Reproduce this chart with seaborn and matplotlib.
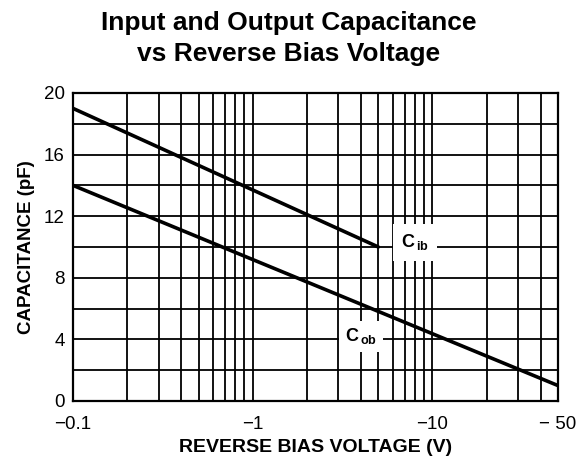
import numpy as np
import pandas as pd
import seaborn as sns
import matplotlib.pyplot as plt
from matplotlib.ticker import FixedLocator, NullFormatter

# Data (reverse bias magnitude in V, capacitance in pF)
cib_voltage = [0.1, 5.0]
cib_capacitance = [19.0, 10.0]
cob_voltage = [0.1, 50.0]
cob_capacitance = [14.0, 1.0]

x_ticks = [0.1, 1, 10, 50]
x_tick_labels = ['\u22120.1', '\u22121', '\u221210', '\u2212 50']
y_ticks = [0, 4, 8, 12, 16, 20]
minor_x = [0.2, 0.3, 0.4, 0.5, 0.6, 0.7, 0.8, 0.9,
           2, 3, 4, 5, 6, 7, 8, 9, 20, 30, 40]

df = pd.concat([
    pd.DataFrame({'voltage': cib_voltage, 'cap': cib_capacitance, 'series': 'Cib'}),
    pd.DataFrame({'voltage': cob_voltage, 'cap': cob_capacitance, 'series': 'Cob'}),
])

sns.set_style('white')
plt.rcParams['font.family'] = ['Liberation Sans', 'DejaVu Sans']
plt.rcParams['text.color'] = 'black'
plt.rcParams['axes.labelcolor'] = 'black'
plt.rcParams['xtick.color'] = 'black'
plt.rcParams['ytick.color'] = 'black'
plt.rcParams['mathtext.fontset'] = 'custom'
plt.rcParams['mathtext.rm'] = 'Liberation Sans'
plt.rcParams['mathtext.bf'] = 'Liberation Sans:bold'

fig = plt.figure(figsize=(5.77, 4.58), dpi=100)
ax = fig.add_axes([0.1265, 0.1245, 0.8406, 0.6725])

sns.lineplot(data=df, x='voltage', y='cap', units='series', estimator=None,
             color='black', linewidth=2.6, ax=ax, zorder=5)

ax.set_xscale('log')
ax.set_xlim(0.1, 50)
ax.set_ylim(0, 20)

ax.xaxis.set_major_locator(FixedLocator(x_ticks))
ax.set_xticklabels(x_tick_labels)
ax.xaxis.set_minor_locator(FixedLocator(minor_x))
ax.xaxis.set_minor_formatter(NullFormatter())
ax.set_yticks(y_ticks)
ax.yaxis.set_minor_locator(FixedLocator([2, 6, 10, 14, 18]))

ax.grid(True, which='both', color='black', linewidth=1.3)
ax.tick_params(axis='both', which='both', length=0, labelsize=13.5)
ax.tick_params(axis='x', pad=11)
ax.tick_params(axis='y', pad=6)

for s in ax.spines.values():
    s.set_color('black')
    s.set_linewidth(1.6)

ax.set_xlabel('REVERSE BIAS VOLTAGE (V)', fontsize=14, fontweight='bold', labelpad=4)
ax.set_ylabel('CAPACITANCE (pF)', fontsize=13.5, fontweight='bold', labelpad=6)

# series labels with white boxes breaking the grid
ax.text(8.0, 10.3, r'$\mathbf{C}_{\,\mathbf{ib}}$', fontsize=13, ha='center', va='center',
        zorder=4, bbox=dict(facecolor='white', edgecolor='none', pad=6))
ax.text(4.0, 4.2, r'$\mathbf{C}_{\,\mathbf{ob}}$', fontsize=13, ha='center', va='center',
        zorder=4, bbox=dict(facecolor='white', edgecolor='none', pad=4))

fig.text(0.5, 0.950, 'Input and Output Capacitance', ha='center', va='center',
         fontsize=19, fontweight='bold')
fig.text(0.5, 0.882, 'vs Reverse Bias Voltage', ha='center', va='center',
         fontsize=19, fontweight='bold')

fig.savefig('out.png', dpi=100)
